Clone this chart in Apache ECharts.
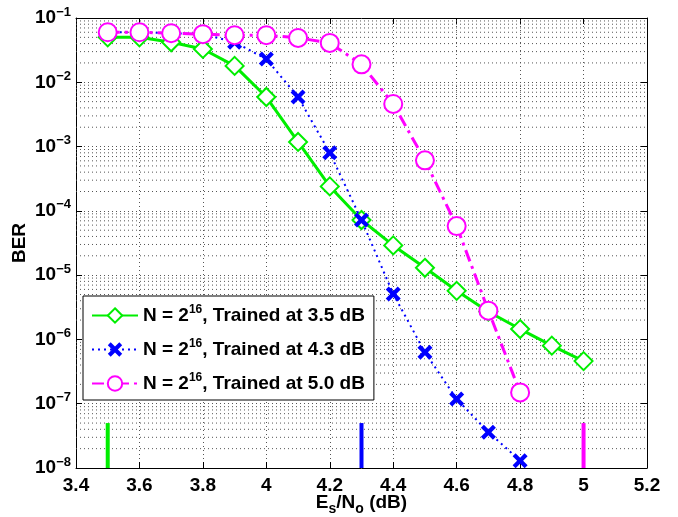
<!DOCTYPE html>
<html>
<head>
<meta charset="utf-8">
<script src="https://cdn.jsdelivr.net/npm/echarts@6/dist/echarts.min.js"></script>
<style>
html, body { margin: 0; padding: 0; background: #fff; }
#chart { width: 678px; height: 517px; }
</style>
</head>
<body>
<div id="chart"></div>
<script>
// Es/No (dB) points for each curve
var snr35 = [3.5, 3.6, 3.7, 3.8, 3.9, 4.0, 4.1, 4.2, 4.3, 4.4, 4.5, 4.6, 4.7, 4.8, 4.9, 5.0];
var ber35 = [0.05, 0.05, 0.042, 0.033, 0.018, 0.0059, 0.00118, 2.4e-4, 7.2e-5, 2.9e-5, 1.3e-5, 5.7e-6, 2.7e-6, 1.45e-6, 8e-7, 4.6e-7];

var snr43 = [3.5, 3.6, 3.7, 3.8, 3.9, 4.0, 4.1, 4.2, 4.3, 4.4, 4.5, 4.6, 4.7, 4.8];
var ber43 = [0.06, 0.06, 0.058, 0.056, 0.042, 0.023, 0.0059, 8e-4, 7.2e-5, 5.1e-6, 6.3e-7, 1.18e-7, 3.6e-8, 1.3e-8];

var snr50 = [3.5, 3.6, 3.7, 3.8, 3.9, 4.0, 4.1, 4.2, 4.3, 4.4, 4.5, 4.6, 4.7, 4.8];
var ber50 = [0.06, 0.06, 0.058, 0.056, 0.054, 0.054, 0.049, 0.041, 0.019, 0.0046, 6.1e-4, 5.8e-5, 2.8e-6, 1.5e-7];

// training points (short vertical bars at the bottom)
var trainedAt = [3.5, 4.3, 5.0];
var trainColors = ['#00ee00', '#0000ff', '#ff00ff'];
var barBottom = 1e-8;
var barTop = 5e-8;

var names = [
    'N = 2{sup|16}, Trained at 3.5 dB',
    'N = 2{sup|16}, Trained at 4.3 dB',
    'N = 2{sup|16}, Trained at 5.0 dB'
];

var xMin = 3.4, xMax = 5.2;

function pairs(xs, ys) {
    return xs.map(function (x, i) { return [x, ys[i]]; });
}

// minor log grid lines 2..9 per decade, drawn as one broken line
var minorGrid = [];
for (var e = -8; e < -1; e++) {
    for (var m = 2; m <= 9; m++) {
        var v = m * Math.pow(10, e);
        minorGrid.push([xMin, v], [xMax, v], ['-', '-']);
    }
}

var font = 'Liberation Sans, Arial, sans-serif';
var gridStyle = { color: '#555', width: 1, type: [1, 3] };
var xMark = 'path://M0,2 L2,0 L5,3 L8,0 L10,2 L7,5 L10,8 L8,10 L5,7 L2,10 L0,8 L3,5 Z';

var series = [
    {
        name: 'minorGrid',
        type: 'line',
        data: minorGrid,
        symbol: 'none',
        silent: true,
        connectNulls: false,
        lineStyle: gridStyle,
        z: 0
    },
    {
        name: names[0],
        type: 'line',
        data: pairs(snr35, ber35),
        symbol: 'emptyDiamond',
        symbolSize: 18,
        color: '#00ee00',
        lineStyle: { width: 3, color: '#00ee00' },
        itemStyle: { borderWidth: 2 },
        z: 3
    },
    {
        name: names[1],
        type: 'line',
        data: pairs(snr43, ber43),
        symbol: xMark,
        symbolSize: 15,
        color: '#0000ff',
        lineStyle: { width: 2, color: '#0000ff', type: [2, 4] },
        z: 4
    },
    {
        name: names[2],
        type: 'line',
        data: pairs(snr50, ber50),
        symbol: 'emptyCircle',
        symbolSize: 18,
        color: '#ff00ff',
        lineStyle: { width: 3, color: '#ff00ff', type: [12, 5, 3, 5] },
        itemStyle: { borderWidth: 2.5 },
        z: 5
    }
];

trainedAt.forEach(function (x, i) {
    series.push({
        name: 'train' + i,
        type: 'line',
        data: [[x, barBottom], [x, barTop]],
        symbol: 'none',
        lineStyle: { width: 4, color: trainColors[i] },
        silent: true,
        z: 2
    });
});

var option = {
    animation: false,
    backgroundColor: '#fff',
    grid: { left: 76, right: 31, top: 18, bottom: 49, outerBoundsMode: 'none', containLabel: false },
    legend: {
        data: names,
        orient: 'vertical',
        left: 83,
        top: 296,
        backgroundColor: '#fff',
        borderColor: '#000',
        borderWidth: 1,
        borderRadius: 0,
        padding: [8, 9, 7, 8],
        itemWidth: 46,
        itemHeight: 18,
        itemGap: 13,
        textStyle: {
            fontFamily: font,
            fontWeight: 'bold',
            fontSize: 19,
            color: '#000',
            rich: {
                sup: { fontFamily: font, fontWeight: 'bold', fontSize: 12, padding: [0, 0, 11, 0], color: '#000' }
            }
        }
    },
    xAxis: [
        {
            type: 'value',
            min: xMin,
            max: xMax,
            interval: 0.2,
            name: '{b|E}{sub|s}{b|/N}{sub|o}{b| (dB)}',
            nameLocation: 'middle',
            nameGap: 22,
            nameMoveOverlap: false,
            nameTextStyle: {
                rich: {
                    b: { fontFamily: font, fontWeight: 'bold', fontSize: 19, color: '#000' },
                    sub: { fontFamily: font, fontWeight: 'bold', fontSize: 14, padding: [12, 0, 0, 0], color: '#000' }
                }
            },
            axisLine: { show: true, onZero: false, lineStyle: { color: '#000', width: 1 } },
            axisTick: { show: true, inside: true, length: 6, lineStyle: { color: '#000' } },
            axisLabel: {
                margin: 8,
                fontFamily: font,
                fontWeight: 'bold',
                fontSize: 19,
                color: '#000',
                formatter: function (v) { return String(Number(v.toFixed(1))); }
            },
            splitLine: { show: true, lineStyle: gridStyle }
        },
        {
            type: 'value',
            position: 'top',
            min: xMin,
            max: xMax,
            interval: 0.2,
            axisLine: { show: true, onZero: false, lineStyle: { color: '#000', width: 1 } },
            axisTick: { show: true, inside: true, length: 6, lineStyle: { color: '#000' } },
            axisLabel: { show: false },
            splitLine: { show: false }
        }
    ],
    yAxis: [
        {
            type: 'log',
            logBase: 10,
            min: 1e-8,
            max: 1e-1,
            name: 'BER',
            nameLocation: 'middle',
            nameRotate: 90,
            nameGap: 47,
            nameMoveOverlap: false,
            nameTextStyle: { fontFamily: font, fontWeight: 'bold', fontSize: 19, color: '#000' },
            axisLine: { show: true, onZero: false, lineStyle: { color: '#000', width: 1 } },
            axisTick: { show: true, inside: true, length: 6, lineStyle: { color: '#000' } },
            axisLabel: {
                margin: 5,
                fontFamily: font,
                fontWeight: 'bold',
                fontSize: 19,
                color: '#000',
                formatter: function (v) {
                    var ex = Math.round(Math.log10(v));
                    return '10{sup|\u2212' + Math.abs(ex) + '}';
                },
                rich: {
                    sup: { fontFamily: font, fontWeight: 'bold', fontSize: 13, padding: [0, 0, 12, 0], color: '#000' }
                }
            },
            splitLine: { show: true, lineStyle: gridStyle }
        },
        {
            type: 'log',
            logBase: 10,
            min: 1e-8,
            max: 1e-1,
            position: 'right',
            axisLine: { show: true, onZero: false, lineStyle: { color: '#000', width: 1 } },
            axisTick: { show: true, inside: true, length: 6, lineStyle: { color: '#000' } },
            axisLabel: { show: false },
            splitLine: { show: false }
        }
    ],
    series: series
};

var chart = echarts.init(document.getElementById('chart'));
chart.setOption(option);
</script>
</body>
</html>
